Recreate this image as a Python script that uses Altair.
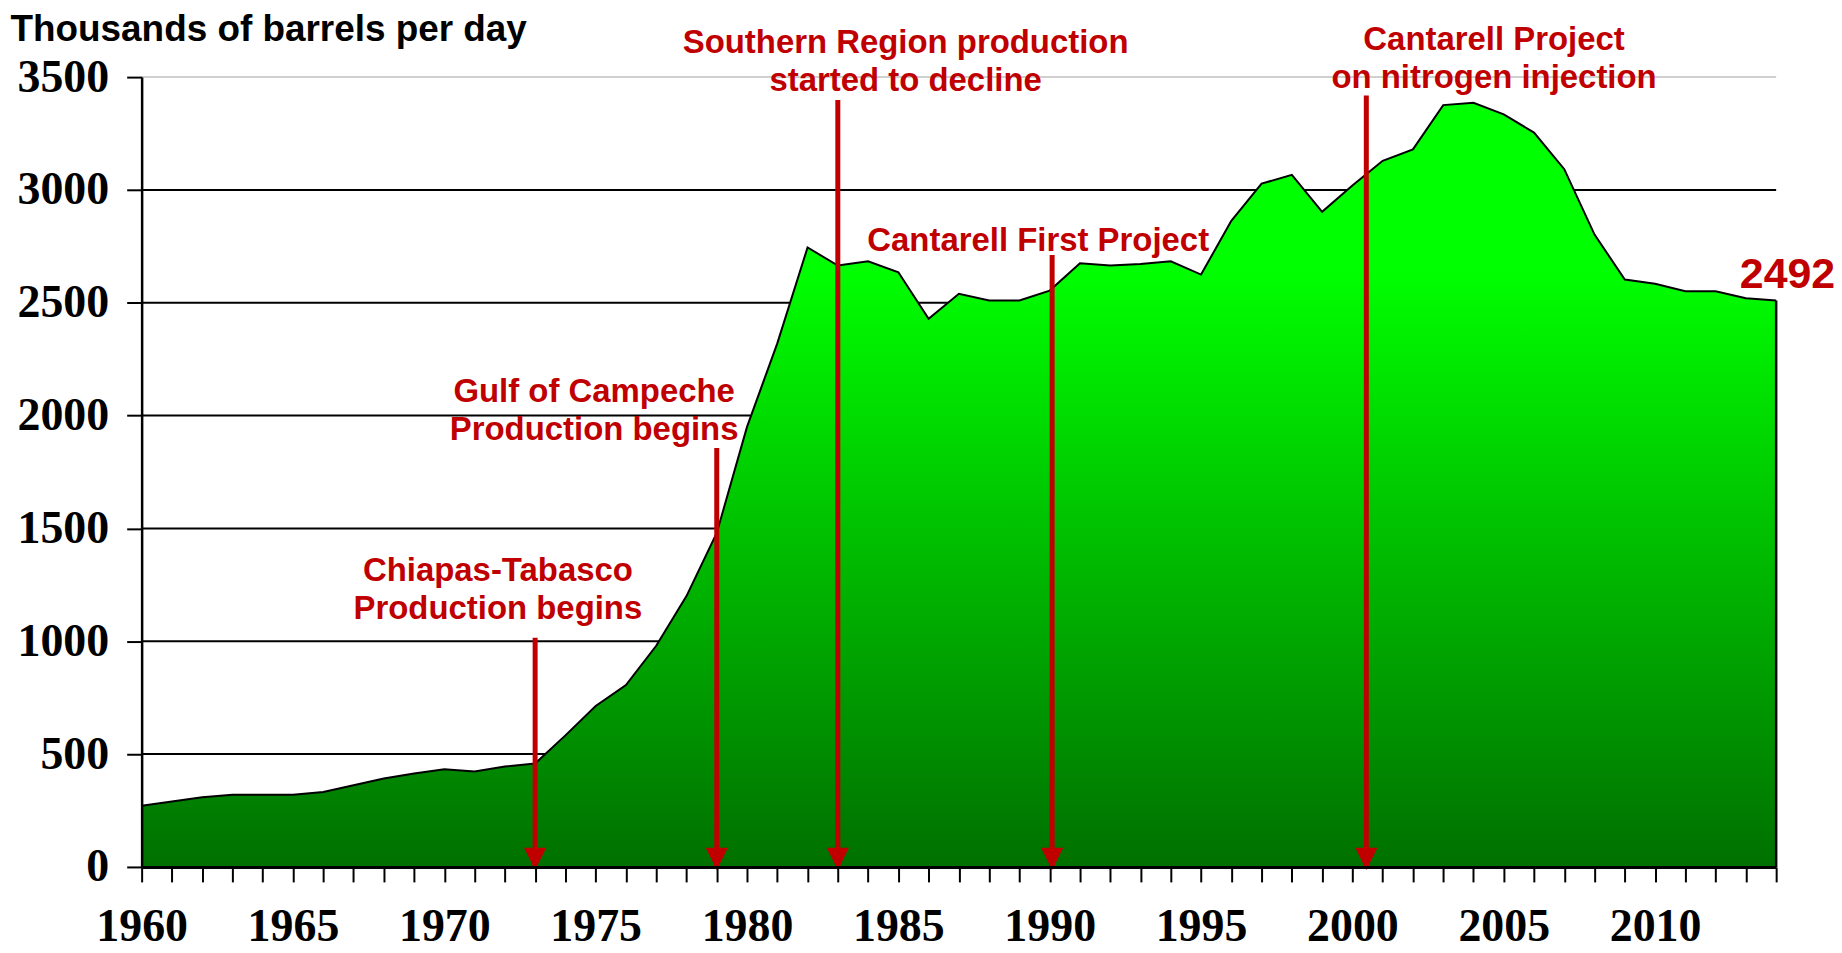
import altair as alt
import pandas as pd

# ---- data ----
years = list(range(1960, 2015))
production = [
    271, 290, 309, 320, 320, 320, 332, 362, 392, 414,
    433, 423, 445, 458, 583, 713, 806, 980, 1200, 1480,
    1950, 2320, 2745, 2665, 2684, 2635, 2429, 2540, 2510, 2510,
    2554, 2675, 2665, 2672, 2684, 2625, 2863, 3028, 3067, 2903,
    3020, 3129, 3180, 3376, 3386, 3335, 3254, 3092, 2802, 2603,
    2584, 2551, 2551, 2520, 2510,
]

event_years = [1973, 1979, 1983, 1990.08, 2000.46]
event_tops = [1016, 1856, 3398, 2712, 3418]

label_texts = [
    "Chiapas-Tabasco\nProduction begins",
    "Gulf of Campeche\nProduction begins",
    "Southern Region production\nstarted to decline",
    "Cantarell First Project",
    "Cantarell Project\non nitrogen injection",
]
label_years = [1971.77, 1974.95, 1985.24, 1989.62, 2004.68]
label_values = [1265, 2060, 3607, 2731, 3619]

last_value_text = ["2492"]
last_value_year = [2012.8]
last_value_pos = [2564]

grid_values = [500, 1000, 1500, 2000, 2500, 3000, 3500]
y_ticks = [0, 500, 1000, 1500, 2000, 2500, 3000, 3500]
x_ticks = years

RED = "#C00000"
W, H = 1639, 792

prod_df = pd.DataFrame({"year": years, "value": production})
events_df = pd.DataFrame({"year": event_years, "top": event_tops})
labels_df = pd.DataFrame({"lx": label_years, "ly": label_values, "label": label_texts})
last_df = pd.DataFrame({"lx": last_value_year, "ly": last_value_pos, "label": last_value_text})
grid_df = pd.DataFrame({"v": grid_values})

xscale = alt.Scale(domain=[1960, 2014], nice=False, zero=False)
yscale = alt.Scale(domain=[0, 3500], nice=False, zero=True)

x_axis = alt.Axis(
    values=x_ticks, format="d",
    labelExpr="datum.value % 5 == 0 ? datum.label : ''",
    tickSize=15, tickWidth=2, tickColor="black",
    domainColor="black", domainWidth=3,
    labelFont="Liberation Serif", labelFontSize=46, labelFontWeight="bold",
    labelColor="black", labelPadding=59, labelBaseline="alphabetic",
    labelOverlap=False, labelFlush=False, labelBound=False,
    grid=False, title="", zindex=1,
)
y_axis = alt.Axis(
    values=y_ticks, format="d",
    tickSize=15, tickWidth=2, tickColor="black",
    domainColor="black", domainWidth=2.5,
    labelFont="Liberation Serif", labelFontSize=46, labelFontWeight="bold",
    labelColor="black", labelPadding=18,
    labelOverlap=False, labelBound=False,
    grid=False, zindex=1,
    title="Thousands of barrels per day",
    titleAngle=0, titleAlign="left", titleBaseline="alphabetic",
    titleX=-132, titleY=-37,
    titleFont="Liberation Sans", titleFontSize=37, titleFontWeight="bold",
    titleColor="black",
)


def X(field):
    return alt.X(field, scale=xscale, axis=x_axis)


def Y(field):
    return alt.Y(field, scale=yscale, axis=y_axis)


grid = alt.Chart(grid_df).mark_rule(strokeWidth=2).encode(
    y=Y("v:Q"),
    x=alt.XDatum(1960, scale=xscale, axis=x_axis),
    x2=alt.datum(2014),
    color=alt.condition("datum.v == 3500", alt.value("#d0d0d0"), alt.value("black")),
)

gradient = alt.Gradient(
    gradient="linear",
    stops=[
        alt.GradientStop(color="#007000", offset=0),
        alt.GradientStop(color="#00FF00", offset=0.78),
        alt.GradientStop(color="#00FF00", offset=1),
    ],
    x1=0, x2=0, y1=1, y2=0,
)

area = alt.Chart(prod_df).mark_area(color=gradient, line=False, opacity=1).encode(
    x=X("year:Q"),
    y=Y("value:Q"),
)

line = alt.Chart(prod_df).mark_line(color="black", strokeWidth=2).encode(
    x=X("year:Q"),
    y=Y("value:Q"),
)

edge = alt.Chart(prod_df).transform_filter("datum.year == 2014").mark_rule(
    color="black", strokeWidth=2.5
).encode(
    x=X("year:Q"),
    y=Y("value:Q"),
    y2=alt.datum(0),
)

shafts = alt.Chart(events_df).mark_rule(color=RED, strokeWidth=5).encode(
    x=X("year:Q"),
    y=Y("top:Q"),
    y2=alt.datum(0),
)

heads = alt.Chart(events_df).mark_point(
    shape="M-1,-1L1,-1L0,1Z", filled=True, size=500, color=RED,
    opacity=1, yOffset=-8, strokeWidth=0,
).encode(
    x=X("year:Q"),
    y=alt.YDatum(0, scale=yscale, axis=y_axis),
)

labels = alt.Chart(labels_df).mark_text(
    lineBreak="\n", lineHeight=38, font="Liberation Sans", fontSize=33,
    fontWeight="bold", color=RED, align="center", baseline="alphabetic",
).encode(
    x=X("lx:Q"),
    y=Y("ly:Q"),
    text="label:N",
)

last_label = alt.Chart(last_df).mark_text(
    font="Liberation Sans", fontSize=43, fontWeight="bold", color=RED,
    align="left", baseline="alphabetic",
).encode(
    x=X("lx:Q"),
    y=Y("ly:Q"),
    text="label:N",
)

chart = alt.layer(
    grid, area, line, edge, shafts, heads, labels, last_label
).properties(
    width=W, height=H,
    autosize="none",
    padding={"left": 134, "top": 68, "right": 58, "bottom": 85},
    background="white",
).configure_view(stroke=None)

chart.save("out.html", embed_options={"renderer": "svg", "actions": False})
